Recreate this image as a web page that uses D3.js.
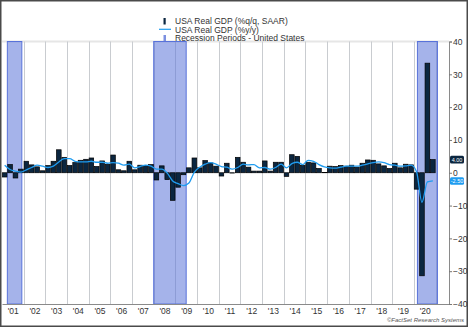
<!DOCTYPE html>
<html>
<head>
<meta charset="utf-8">
<script src="https://cdn.jsdelivr.net/npm/d3@7"></script>
<style>
  body { margin: 0; background: #fff; }
  svg { display: block; font-family: "Liberation Sans", Arial, sans-serif; }
</style>
</head>
<body>
<svg></svg>
<script>
let quarters = []
for (let y = 2001; y <= 2020; y++) {
    for (let q = 1; q <= 4; q++) quarters.push(y + 'Q' + q)
}

// %q/q SAAR
let qoqValues = [
    -1.3, 2.5, -1.6, 1.1,
    3.5, 2.4, 1.8, 0.6,
    2.2, 3.5, 7.0, 4.7,
    2.2, 3.1, 3.8, 4.1,
    4.5, 1.9, 3.6, 2.6,
    5.4, 0.9, 0.6, 3.5,
    0.9, 2.3, 2.2, 2.5,
    -2.2, 2.1, -2.1, -8.4,
    -4.4, -0.6, 1.5, 4.5,
    1.5, 3.7, 3.0, 2.0,
    -1.0, 2.9, -0.1, 4.7,
    3.2, 1.7, 0.5, 0.5,
    3.6, 0.5, 3.2, 3.2,
    -1.1, 5.5, 5.0, 2.3,
    3.2, 3.0, 1.3, 0.1,
    2.0, 1.9, 2.2, 2.0,
    2.3, 1.7, 2.9, 3.9,
    3.8, 2.7, 2.1, 1.3,
    2.9, 1.5, 2.6, 2.4,
    -5.0, -31.4, 33.4, 4.0
]

// %y/y
let yoyValues = [
    2.3, 1.0, 0.5, 0.2,
    0.9, 1.6, 2.3, 2.0,
    1.6, 2.0, 3.3, 4.3,
    4.3, 3.5, 3.3, 3.3,
    3.5, 3.2, 3.2, 2.9,
    3.1, 2.9, 2.3, 2.6,
    1.5, 1.9, 2.3, 2.0,
    1.1, 1.1, -0.1, -2.5,
    -3.3, -3.9, -3.1, 0.2,
    1.7, 2.6, 3.1, 2.6,
    1.9, 1.7, 1.1, 1.6,
    2.6, 2.4, 2.5, 1.5,
    1.6, 1.1, 1.6, 2.6,
    1.5, 2.8, 3.2, 2.5,
    3.8, 3.5, 2.5, 1.8,
    1.5, 1.4, 1.7, 2.0,
    2.0, 2.0, 2.3, 2.7,
    3.1, 3.3, 3.1, 2.5,
    2.3, 2.0, 2.1, 2.3,
    0.3, -9.0, -2.8, -2.5
]

let recessionStarts = ['2001-04-01', '2008-01-01', '2020-03-01']
let recessionEnds = ['2001-12-01', '2009-07-01', '2021-02-01']

let yearLabels = ["'01","'02","'03","'04","'05","'06","'07","'08","'09","'10",
                  "'11","'12","'13","'14","'15","'16","'17","'18","'19","'20"]
let yTicks = [40, 30, 20, 10, 0, -10, -20, -30, -40]

let legendLabels = ['USA Real GDP (%q/q, SAAR)', 'USA Real GDP (%y/y)', 'Recession Periods - United States']

let width = 468
let height = 327

let barColor = '#0b2640'
let lineColor = '#1f9cf0'
let bandColor = '#5b74d8'

let svg = d3.select('svg').attr('width', width).attr('height', height)

let parse = d3.timeParse('%Y-%m-%d')
let qStart = (s) => new Date(+s.slice(0, 4), (+s.slice(5) - 1) * 3, 1)
let qEnd = (s) => d3.timeMonth.offset(qStart(s), 3)

let xScale = d3.scaleTime()
               .domain([new Date(2001, 0, 1), new Date(2021, 7, 15)])
               .range([2, 449])

let yScale = d3.scaleLinear()
               .domain([-40, 40])
               .range([304, 41.5])

// frame
svg.append('rect')
   .attr('x', 0.75).attr('y', 0.75)
   .attr('width', width - 1.5).attr('height', height - 1.5)
   .attr('fill', 'none')
   .attr('stroke', '#4a4a4a')
   .attr('stroke-width', 1.5)

// top strip of plot
svg.append('line')
   .attr('x1', 2).attr('x2', 449)
   .attr('y1', 41.5).attr('y2', 41.5)
   .attr('stroke', '#e6e6e6')
   .attr('stroke-width', 2)

// year gridlines
let gridYears = d3.range(2002, 2022).map((y) => new Date(y, 0, 1))
svg.append('g')
   .selectAll('line')
   .data(gridYears)
   .enter()
   .append('line')
   .attr('x1', (d) => Math.round(xScale(d)) + 0.5)
   .attr('x2', (d) => Math.round(xScale(d)) + 0.5)
   .attr('y1', yScale(40))
   .attr('y2', yScale(-40))
   .attr('stroke', '#c9ccd0')
   .attr('stroke-width', 1)

// recession bands
svg.append('g')
   .selectAll('rect')
   .data(recessionStarts)
   .enter()
   .append('rect')
   .attr('x', (d) => xScale(parse(d)))
   .attr('width', (d, i) => xScale(parse(recessionEnds[i])) - xScale(parse(d)))
   .attr('y', yScale(40))
   .attr('height', yScale(-40) - yScale(40))
   .attr('fill', bandColor)
   .attr('fill-opacity', 0.55)
   .attr('stroke', '#5872da')
   .attr('stroke-width', 1)

// bars
svg.append('g')
   .selectAll('rect')
   .data(qoqValues)
   .enter()
   .append('rect')
   .attr('x', (d, i) => xScale(qStart(quarters[i])) + 0.4)
   .attr('width', (d, i) => xScale(qEnd(quarters[i])) - xScale(qStart(quarters[i])) - 0.8)
   .attr('y', (d) => yScale(Math.max(0, d)))
   .attr('height', (d) => Math.abs(yScale(d) - yScale(0)))
   .attr('fill', barColor)
   .attr('stroke', '#000')
   .attr('stroke-width', 0.7)

// y/y line
let qMid = (s) => new Date((qStart(s).getTime() + qEnd(s).getTime()) / 2)
let line = d3.line()
             .x((d, i) => xScale(qMid(quarters[i])))
             .y((d) => yScale(d))
             .curve(d3.curveMonotoneX)

svg.append('path')
   .datum(yoyValues)
   .attr('d', line)
   .attr('fill', 'none')
   .attr('stroke', lineColor)
   .attr('stroke-width', 1.3)

// bottom axis
let xAxis = d3.axisBottom(xScale)
              .tickValues(d3.range(2001, 2021).map((y) => new Date(y, 6, 1)))
              .tickFormat((d, i) => yearLabels[i])
              .tickSize(0)
              .tickPadding(4)

svg.append('g')
   .attr('transform', 'translate(0,' + yScale(-40) + ')')
   .call(xAxis)
   .call((g) => g.select('.domain').attr('stroke', '#8a8a8a'))
   .call((g) => g.selectAll('text').attr('fill', '#333').attr('font-size', '8.5px')
                 .attr('font-family', '"Liberation Sans", Arial, sans-serif'))

// right axis
let yAxis = d3.axisRight(yScale)
              .tickValues(yTicks)
              .tickSize(3)
              .tickPadding(1)

svg.append('g')
   .attr('transform', 'translate(449,0)')
   .call(yAxis)
   .call((g) => g.select('.domain').attr('stroke', '#8a8a8a'))
   .call((g) => g.selectAll('.tick line').attr('stroke', '#777'))
   .call((g) => g.selectAll('text').attr('fill', '#333').attr('font-size', '8.5px')
                 .attr('font-family', '"Liberation Sans", Arial, sans-serif'))

// last value tags
let tags = [
    {value: qoqValues[qoqValues.length - 1], color: barColor},
    {value: yoyValues[yoyValues.length - 1], color: lineColor}
]
let tagG = svg.append('g')
              .selectAll('g')
              .data(tags)
              .enter()
              .append('g')
              .attr('transform', (d) => 'translate(450,' + yScale(d.value) + ')')

tagG.append('rect')
    .attr('x', 0).attr('y', -3.8)
    .attr('width', 14).attr('height', 7.6)
    .attr('rx', 1.5)
    .attr('fill', (d) => d.color)

tagG.append('text')
    .attr('x', 7).attr('y', 2.2)
    .attr('text-anchor', 'middle')
    .attr('font-size', '5.5px')
    .attr('fill', '#fff')
    .text((d) => d.value.toFixed(2))

// legend
let legend = svg.append('g')
legend.append('rect')
      .attr('x', 163.5).attr('y', 18).attr('width', 2.2).attr('height', 6.5)
      .attr('fill', barColor)
legend.append('line')
      .attr('x1', 159).attr('x2', 171).attr('y1', 29.3).attr('y2', 29.3)
      .attr('stroke', lineColor).attr('stroke-width', 1.2)
legend.append('rect')
      .attr('x', 163.5).attr('y', 35).attr('width', 2.5).attr('height', 6.5)
      .attr('fill', bandColor).attr('fill-opacity', 0.8)

legend.selectAll('text')
      .data(legendLabels)
      .enter()
      .append('text')
      .attr('x', 175)
      .attr('y', (d, i) => 24 + i * 8.6)
      .attr('font-size', '8.5px')
      .attr('fill', '#333')
      .text((d) => d)

// source
svg.append('text')
   .attr('x', 464).attr('y', 322)
   .attr('text-anchor', 'end')
   .attr('font-size', '6px')
   .attr('font-style', 'italic')
   .attr('fill', '#555')
   .text('©FactSet Research Systems')
</script>
</body>
</html>
